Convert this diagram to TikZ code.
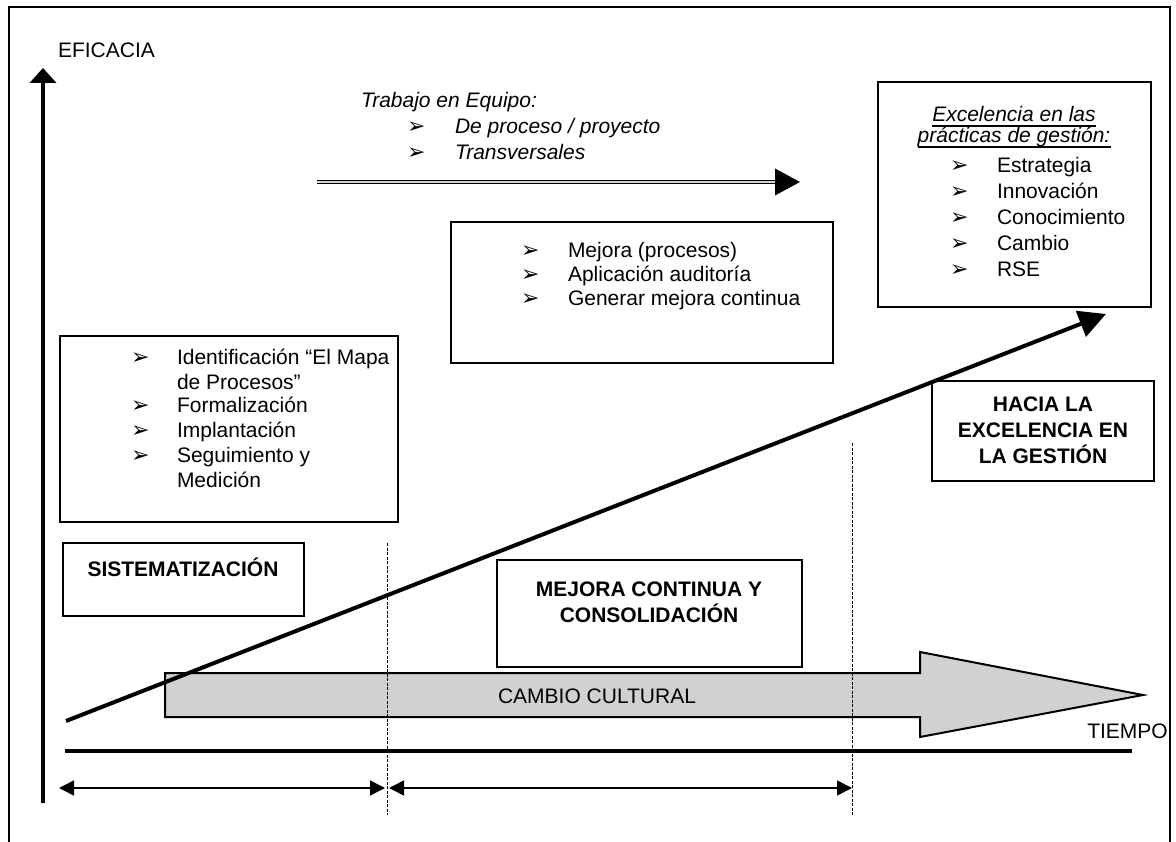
\documentclass[tikz,border=0pt]{standalone}
\usepackage{fontspec}
\setmainfont{Liberation Sans}
\newfontfamily\dingfont{DejaVu Sans}
\usetikzlibrary{arrows.meta}
\newcommand\arrbullet{{\dingfont\fontsize{22}{22}\selectfont ➢}}
\definecolor{bandgray}{RGB}{210,208,210}
\begin{document}
\begin{tikzpicture}[x=1pt,y=-1pt,
  txt/.style={inner sep=0pt, outer sep=0pt, anchor=base west, font=\fontsize{21}{25}\selectfont},
  itxt/.style={txt, font=\fontsize{21}{25}\selectfont\itshape},
  ctxt/.style={inner sep=0pt, outer sep=0pt, anchor=base, font=\fontsize{21}{25}\selectfont\bfseries},
  bul/.style={inner sep=0pt, outer sep=0pt, anchor=base west},
  panel/.style={draw, line width=2pt, inner sep=0pt, outer sep=0pt, anchor=north west},
  axisline/.style={line width=4pt},
  dotline/.style={line width=0.8pt, dash pattern=on 3pt off 1.5pt},
  span/.style={line width=1.5pt, {Triangle[length=15pt,width=15pt]}-{Triangle[length=15pt,width=15pt]}}]
\useasboundingbox (0,0) rectangle (1176,842);

% outer frame, open at the bottom
\draw[line width=2pt] (9,842) -- (9,7) -- (1170,7) -- (1170,842);

% cultural change band arrow
\filldraw[fill=bandgray, line width=2pt] (165,673) -- (920,673) -- (920,652) -- (1143,695)
  -- (920,737) -- (920,717) -- (165,717) -- cycle;
\node[inner sep=0pt, anchor=base, font=\fontsize{21}{25}\selectfont] (cambio) at (597,703) {CAMBIO CULTURAL};

% phase separators
\coordinate (v1t) at (387,543); \coordinate (v1b) at (387,815);
\coordinate (v2t) at (852,443); \coordinate (v2b) at (852,815);
\draw[dotline] (v1t) -- (v1b);
\draw[dotline] (v2t) -- (v2b);

% axes
\coordinate (yb) at (43,803); \coordinate (yt) at (43,68);
\draw[axisline, -{Triangle[length=15pt,width=26pt]}] (yb) -- (yt);
\node[txt] (eficacia) at (58,58) {EFICACIA};
\coordinate (tl0) at (65,751); \coordinate (tl1) at (1132,751);
\draw[line width=4.5pt] (tl0) -- (tl1);
\node[inner sep=0pt, anchor=base east, font=\fontsize{21}{25}\selectfont] (tiempo) at (1168,738) {TIEMPO};

% phase spans
\coordinate (dA) at (59,788); \coordinate (dB) at (385,788);
\coordinate (dC) at (389,788); \coordinate (dD) at (852,788);
\draw[span] (dA) -- (dB);
\draw[span] (dC) -- (dD);

% growth line
\coordinate (g0) at (66,721); \coordinate (g1) at (1106,314);
\draw[line width=4pt, -{Triangle[length=27pt,width=27pt]}] (g0) -- (g1);

% team work
\node[itxt] (trab) at (361,108) {Trabajo en Equipo:};
\node[bul] (tb1) at (407,134) {\arrbullet};
\node[itxt] (tt1) at (455,134) {De proceso / proyecto};
\node[bul] (tb2) at (407,160) {\arrbullet};
\node[itxt] (tt2) at (455,160) {Transversales};
\coordinate (tA) at (317,182); \coordinate (tB) at (800,182);
\draw[line width=1.1pt, double=gray!35, double distance=2.2pt] (tA) -- ([xshift=-22pt]tB);
\fill ([xshift=-25pt,yshift=13.5pt]tB) -- (tB) -- ([xshift=-25pt,yshift=-13.5pt]tB) -- cycle;

% improvement list
\node[panel, minimum width=382pt, minimum height=141pt] (mejbox) at (451,222) {};
\node[bul] (mb1) at (521,258) {\arrbullet};
\node[txt] (mt1) at (568,258) {Mejora (procesos)};
\node[bul] (mb2) at (521,282) {\arrbullet};
\node[txt] (mt2) at (568,282) {Aplicación auditoría};
\node[bul] (mb3) at (521,306) {\arrbullet};
\node[txt] (mt3) at (568,306) {Generar mejora continua};

% excellence practices
\node[panel, minimum width=273pt, minimum height=225pt] (excbox) at (878,82) {};
\node[inner sep=0pt, anchor=base, font=\fontsize{21}{25}\selectfont\itshape] (ex1) at (1014,122) {Excelencia en las};
\node[inner sep=0pt, anchor=base, font=\fontsize{21}{25}\selectfont\itshape] (ex2) at (1014,143) {prácticas de gestión:};
\draw[line width=1.2pt] ([yshift=-4pt]ex1.base west) -- ([yshift=-4pt]ex1.base east);
\draw[line width=1.2pt] ([yshift=-4pt]ex2.base west) -- ([yshift=-4pt]ex2.base east);
\node[bul] (eb1) at (950,173) {\arrbullet};
\node[txt] (et1) at (997,173) {Estrategia};
\node[bul] (eb2) at (950,199) {\arrbullet};
\node[txt] (et2) at (997,199) {Innovación};
\node[bul] (eb3) at (950,225) {\arrbullet};
\node[txt] (et3) at (997,225) {Conocimiento};
\node[bul] (eb4) at (950,251) {\arrbullet};
\node[txt] (et4) at (997,251) {Cambio};
\node[bul] (eb5) at (950,277) {\arrbullet};
\node[txt] (et5) at (997,277) {RSE};

% process list
\node[panel, minimum width=338pt, minimum height=186pt] (procbox) at (60,336) {};
\node[bul] (pb1) at (131,365) {\arrbullet};
\node[txt] (pt1) at (177,365) {Identificación “El Mapa};
\node[txt] (pt1b) at (177,389) {de Procesos”};
\node[bul] (pb2) at (131,413) {\arrbullet};
\node[txt] (pt2) at (177,413) {Formalización};
\node[bul] (pb3) at (131,437) {\arrbullet};
\node[txt] (pt3) at (177,437) {Implantación};
\node[bul] (pb4) at (131,462) {\arrbullet};
\node[txt] (pt4) at (177,462) {Seguimiento y};
\node[txt] (pt4b) at (177,487) {Medición};

% phase titles
\node[panel, minimum width=222pt, minimum height=100pt] (hacbox) at (932,381) {};
\node[ctxt] (h1) at (1043,411) {HACIA LA};
\node[ctxt] (h2) at (1043,437) {EXCELENCIA EN};
\node[ctxt] (h3) at (1043,463) {LA GESTIÓN};

\node[panel, minimum width=241pt, minimum height=73pt] (sisbox) at (63,543) {};
\node[ctxt] (s1) at (183,576) {SISTEMATIZACIÓN};

\node[panel, minimum width=305pt, minimum height=107pt] (mcbox) at (497,560) {};
\node[ctxt] (mc1) at (649,596) {MEJORA CONTINUA Y};
\node[ctxt] (mc2) at (649,622) {CONSOLIDACIÓN};
\end{tikzpicture}
\end{document}
